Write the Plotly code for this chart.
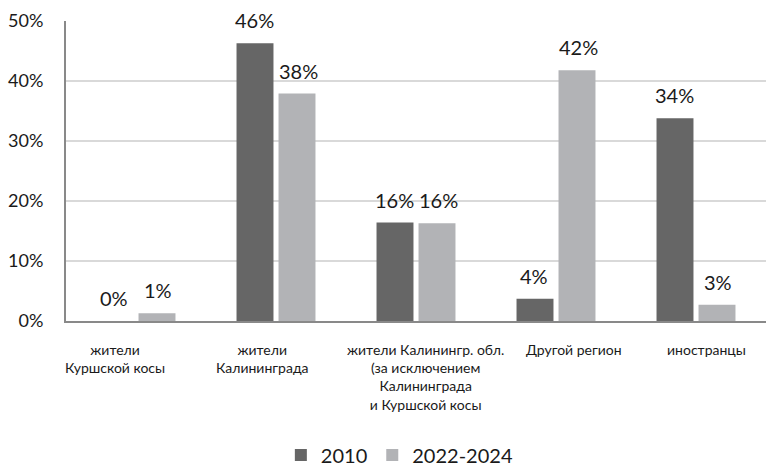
import plotly.graph_objects as go

categories = ["жители<br>Куршской косы", "жители<br>Калининграда",
              "жители Калинингр. обл.<br>(за исключением<br>Калининграда<br>и Куршской косы",
              "Другой регион", "иностранцы"]
cat_keys = ["c1", "c2", "c3", "c4", "c5"]
series_names = ["2010", "2022-2024"]
values_2010 = [0.0, 46.3, 16.4, 3.7, 33.8]
values_2022 = [1.3, 37.9, 16.3, 41.8, 2.7]
y_ticks = [0, 10, 20, 30, 40, 50]

colors = ["#666666", "#b2b3b6"]
FONT = "Lato"

fig = go.Figure()
for name, vals, col in zip(series_names, [values_2010, values_2022], colors):
    fig.add_trace(go.Bar(x=cat_keys, y=vals, name=name, marker=dict(color=col, line=dict(width=0)),
                         hoverinfo="skip"))

annotations = []
# data labels
for si, vals in enumerate([values_2010, values_2022]):
    shift = -22 if si == 0 else 22
    for k, v in zip(cat_keys, vals):
        annotations.append(dict(x=k, y=v, xref="x", yref="y", xshift=shift, yshift=9,
                                text=f"{round(v)}%", showarrow=False, yanchor="bottom",
                                font=dict(family=FONT, size=20, color="#1a1a1a")))
# category labels (offset as in original)
label_shift = [-21, -14, 9, 18, 10]
for k, lab, sh in zip(cat_keys, categories, label_shift):
    annotations.append(dict(x=k, y=0, xref="x", yref="paper", xshift=sh, yshift=-18,
                            text=lab, showarrow=False, yanchor="top", xanchor="center",
                            align="center", font=dict(family=FONT, size=14, color="#1a1a1a")))

fig.update_layout(
    width=766, height=470,
    margin=dict(l=66, r=0, t=21, b=149, autoexpand=False),
    paper_bgcolor="white", plot_bgcolor="white",
    barmode="group", bargap=0.4, bargroupgap=0.12,
    annotations=annotations,
    showlegend=True,
    legend=dict(orientation="h", xref="container", yref="container",
                x=0.522, xanchor="center", y=0.032, yanchor="middle",
                font=dict(family=FONT, size=20, color="#1a1a1a"), itemclick=False),
    xaxis=dict(range=[-0.5, 4.5], showticklabels=False, showline=True, linecolor="#898989",
               linewidth=2, showgrid=False, zeroline=False, fixedrange=True, automargin=False),
    yaxis=dict(range=[0, 50], tickvals=y_ticks, ticktext=[f"{t}%" for t in y_ticks],
               showline=True, linecolor="#898989", linewidth=2, automargin=False,
               showgrid=True, gridcolor="#d9d9d9", gridwidth=1.5, zeroline=False,
               ticks="", ticklabelstandoff=17, fixedrange=True,
               tickfont=dict(family=FONT, size=18, color="#1a1a1a")),
)

fig.write_html("out.html", config={"displayModeBar": False},
               post_script="document.body.style.margin='0';")
